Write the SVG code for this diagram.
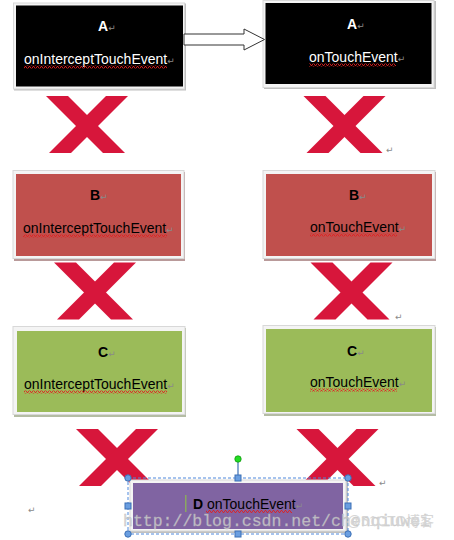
<svg xmlns="http://www.w3.org/2000/svg" xmlns:xlink="http://www.w3.org/1999/xlink" width="454" height="540" viewBox="0 0 454 540">
<style>
.frame{fill:#f4f4f4;stroke:#d8d8d8;stroke-width:1}
.t{font-family:"Liberation Sans",Arial,sans-serif;font-size:14px}
.lbl{font-weight:bold}
.w{fill:#ffffff}
.k{fill:#000000}
.ret{font-family:"DejaVu Sans",sans-serif;font-size:9px;fill:#8a8a8a;font-weight:normal}
.xm{fill:#d7163b}
.h{fill:#6a9ee0;stroke:#3b6fb5;stroke-width:1}
.wm{font-family:"Liberation Mono",monospace;font-size:16.5px;fill:#cfcfcf;stroke:#b5b5b5;stroke-width:0.3}
</style>
<defs>
<pattern id="wave" width="4" height="3" patternUnits="userSpaceOnUse">
<path d="M0 2.5 L1 0.5 L2 0.5 L3 2.5 L4 2.5" fill="none" stroke="#e02020" stroke-width="0.9"/>
</pattern>
<g id="x">
<polygon points="-41,-28.5 -19,-28.5 38,28.5 16,28.5"/>
<polygon points="19,-28.5 41,-28.5 -16,28.5 -38,28.5"/>
</g>
</defs>
<rect width="454" height="540" fill="#ffffff"/>

<g id="marks" class="xm">
<use xlink:href="#x" href="#x" x="87" y="124.5"/>
<use xlink:href="#x" href="#x" x="344.5" y="124.5"/>
<use xlink:href="#x" href="#x" x="95" y="291"/>
<use xlink:href="#x" href="#x" x="351.5" y="291"/>
<use xlink:href="#x" href="#x" x="117" y="457.5"/>
<use xlink:href="#x" href="#x" x="337.5" y="457.5"/>
</g>
<g id="returns">
<text class="ret" x="386" y="153">↵</text>
<text class="ret" x="395" y="320">↵</text>
<text class="ret" x="379" y="486">↵</text>
<text class="ret" x="28" y="513">↵</text>
</g>

<g id="nodeA1">
<rect x="14" y="3.5" width="172" height="87" fill="#bfbfbf"/>
<rect class="frame" x="13.5" y="3" width="171" height="86"/>
<rect x="16" y="5.5" width="167" height="81" fill="#000"/>
<text class="t lbl w" x="98" y="31">A<tspan class="ret">↵</tspan></text>
<text class="t w" x="24" y="64">onInterceptTouchEvent<tspan class="ret">↵</tspan></text>
<rect x="24" y="65.5" width="143" height="3" fill="url(#wave)"/>
</g>

<g id="nodeA2">
<rect x="264" y="1" width="172" height="88" fill="#bfbfbf"/>
<rect class="frame" x="263" y="0.5" width="171" height="87"/>
<rect x="265.5" y="3" width="166" height="81" fill="#000"/>
<text class="t lbl w" x="347" y="29">A<tspan class="ret">↵</tspan></text>
<text class="t w" x="309" y="62">onTouchEvent<tspan class="ret">↵</tspan></text>
<rect x="309" y="63.5" width="87" height="3" fill="url(#wave)"/>
</g>

<g id="nodeB1">
<rect x="14" y="172" width="171" height="89" fill="#b99a9a"/>
<rect class="frame" x="13" y="170.5" width="171" height="88"/>
<rect x="16" y="174" width="165" height="82" fill="#c0504d"/>
<text class="t lbl k" x="90" y="200">B<tspan class="ret">↵</tspan></text>
<text class="t k" x="23" y="233">onInterceptTouchEvent<tspan class="ret">↵</tspan></text>
<rect x="23" y="234.5" width="144" height="3" fill="url(#wave)"/>
</g>

<g id="nodeB2">
<rect x="264" y="172" width="172" height="89" fill="#b99a9a"/>
<rect class="frame" x="263" y="170.5" width="172" height="88"/>
<rect x="266" y="174" width="166" height="82" fill="#c0504d"/>
<text class="t lbl k" x="349" y="200">B<tspan class="ret">↵</tspan></text>
<text class="t k" x="310" y="232">onTouchEvent<tspan class="ret">↵</tspan></text>
<rect x="310" y="233.5" width="87" height="3" fill="url(#wave)"/>
</g>

<g id="nodeC1">
<rect x="14" y="328" width="172" height="89" fill="#b4bca4"/>
<rect class="frame" x="13" y="326.5" width="172" height="88"/>
<rect x="17" y="331" width="165" height="81" fill="#9bbb59"/>
<text class="t lbl k" x="98" y="357">C<tspan class="ret">↵</tspan></text>
<text class="t k" x="24" y="389">onInterceptTouchEvent<tspan class="ret">↵</tspan></text>
<rect x="24" y="390.5" width="143" height="3" fill="url(#wave)"/>
</g>

<g id="nodeC2">
<rect x="264" y="327" width="172" height="89" fill="#b4bca4"/>
<rect class="frame" x="263" y="325.5" width="172" height="88"/>
<rect x="266" y="329" width="166" height="83" fill="#9bbb59"/>
<text class="t lbl k" x="347" y="356">C<tspan class="ret">↵</tspan></text>
<text class="t k" x="310" y="387">onTouchEvent<tspan class="ret">↵</tspan></text>
<rect x="310" y="388.5" width="87" height="3" fill="url(#wave)"/>
</g>

<g id="nodeD">
<rect x="131" y="481" width="217" height="52" fill="#bfbfbf"/>
<rect class="frame" x="130" y="480" width="216" height="51"/>
<rect x="133" y="483" width="210" height="46" fill="#8064a2"/>
<rect x="185" y="495" width="1.5" height="17" fill="#8aa860"/>
<text class="t lbl k" x="193" y="509">D <tspan font-weight="normal">onTouchEvent</tspan><tspan class="ret">↵</tspan></text>
<rect x="206" y="510" width="86" height="3" fill="url(#wave)"/>
<rect x="128" y="478" width="220" height="56" fill="none" stroke="#4f88dc" stroke-width="1" stroke-dasharray="3,2"/>
<line x1="238" y1="459" x2="238" y2="478" stroke="#3b6fb5" stroke-width="1.2"/>
<circle cx="238" cy="459" r="3.2" fill="#22dd22" stroke="#119911" stroke-width="0.8"/>
<circle class="h" cx="128" cy="478" r="3.2"/>
<circle class="h" cx="348" cy="478" r="3.2"/>
<circle class="h" cx="128" cy="534" r="3.2"/>
<circle class="h" cx="348" cy="534" r="3.2"/>
<rect class="h" x="235" y="475" width="6" height="6"/>
<rect class="h" x="235" y="531" width="6" height="6"/>
<rect class="h" x="125" y="503" width="6" height="6"/>
<rect class="h" x="345" y="503" width="6" height="6"/>
</g>

<g id="connectors">
<polygon points="184,34 244,34 244,29 264.5,39.5 244,50 244,45 184,45" fill="#ffffff" stroke="#333333" stroke-width="1"/>
</g>

<g id="watermark" opacity="0.85">
<text class="wm" x="123" y="526">http://blog.csdn.net/chenqiuwei</text>
<text x="347" y="526" font-family="'Liberation Sans','Noto Sans CJK SC',sans-serif" font-size="14" fill="#cfcfcf">@51CTO博客</text>
</g>
</svg>
